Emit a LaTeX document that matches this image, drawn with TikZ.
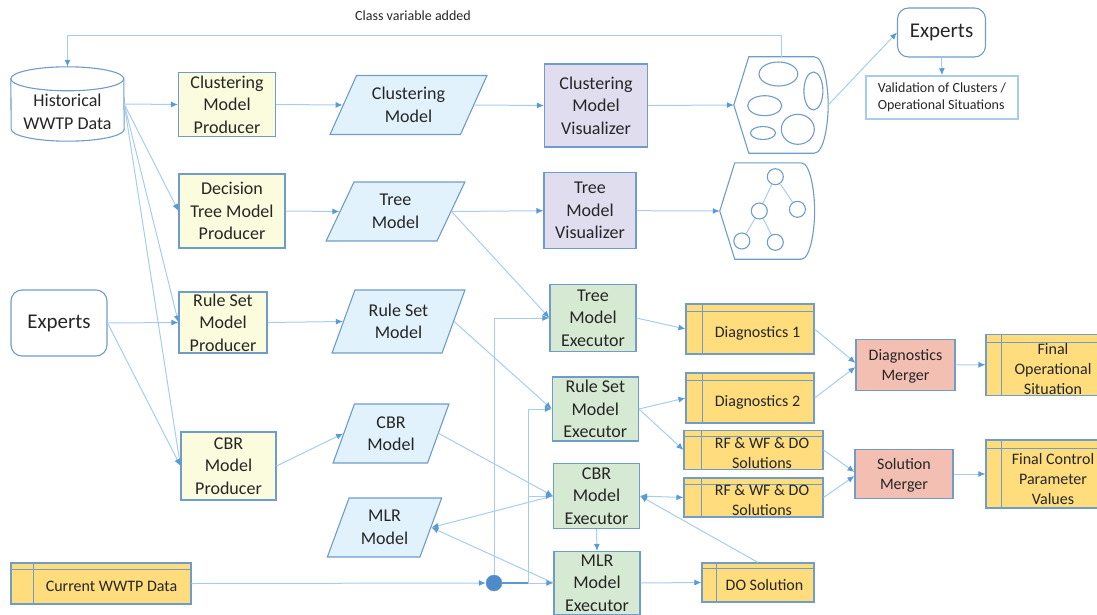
\documentclass[tikz,border=0pt]{standalone}
\usepackage{fontspec}
\setmainfont{Carlito}
\usetikzlibrary{arrows.meta,shapes.geometric}
\definecolor{edgeblue}{HTML}{6F9CC8}
\definecolor{linkblue}{HTML}{A8CCF0}
\definecolor{tipblue}{HTML}{5B9BD5}
\definecolor{dotblue}{HTML}{4F8BCB}
\definecolor{prodfill}{HTML}{FBFBDD}
\definecolor{modelfill}{HTML}{E1F2FD}
\definecolor{visfill}{HTML}{E0DDEF}
\definecolor{execfill}{HTML}{D6E9D2}
\definecolor{storefill}{HTML}{FFDD7C}
\definecolor{mergefill}{HTML}{F3BFB2}
\newcommand{\storetext}[3]{\hspace*{#1pt}\raisebox{\dimexpr-4pt-#2pt\relax}[0pt][0pt]{\begin{tabular}{@{}c@{}}#3\end{tabular}}}
\tikzset{
	box/.style 2 args={rectangle,draw=edgeblue,line width=1.1pt,inner sep=0pt,align=center,text=black!85,font=\fontsize{18}{22.5}\selectfont,minimum width=#1,minimum height=#2},
	producer/.style 2 args={box={#1}{#2},fill=prodfill},
	visualizer/.style 2 args={box={#1}{#2},fill=visfill},
	executor/.style 2 args={box={#1}{#2},fill=execfill},
	merger/.style 2 args={box={#1}{#2},fill=mergefill,font=\fontsize{16}{20}\selectfont},
	model/.style 2 args={trapezium,trapezium stretches=true,draw=edgeblue,line width=1.1pt,fill=modelfill,inner sep=0pt,align=center,text=black!85,font=\fontsize{18}{22.5}\selectfont,minimum width=#1,minimum height=59pt,trapezium left angle=#2,trapezium right angle={180-#2}},
	store/.style n args={4}{box={#1}{#2},fill=storefill,font=\fontsize{16}{20}\selectfont,
		path picture={
			\draw[edgeblue,line width=1pt] ([xshift=#3pt]path picture bounding box.north west) -- ([xshift=#3pt]path picture bounding box.south west);
			\draw[edgeblue,line width=1pt] ([yshift=-#4pt]path picture bounding box.north west) -- ([yshift=-#4pt]path picture bounding box.north east);}},
	person/.style 2 args={box={#1}{#2},rounded corners=11pt,font=\fontsize{21}{25}\selectfont},
	viewbox/.style 2 args={rectangle,inner sep=0pt,minimum width=#1,minimum height=#2},
	viewline/.style={draw=edgeblue,line width=1.1pt},
	treenode/.style={circle,viewline,inner sep=0pt,minimum size=16pt},
	link/.style={draw=linkblue,line width=1pt,-{Latex[length=7pt,width=6pt,color=tipblue]}},
	plain/.style={draw=linkblue,line width=1pt},
}
\newcommand{\viewoutline}[3]{\draw[viewline] (#1.west) -- ([xshift=#2pt]#1.north west) -- ([xshift=-#3pt]#1.north east) .. controls ([xshift=-4pt]#1.north east) and ([yshift=18pt]#1.east) .. (#1.east) .. controls ([yshift=-18pt]#1.east) and ([xshift=-4pt]#1.south east) .. ([xshift=-#3pt]#1.south east) -- ([xshift=#2pt]#1.south west) -- cycle;}
\begin{document}
\begin{tikzpicture}[x=1pt,y=-1pt]
	\useasboundingbox (0,0) rectangle (1097,615);
	% Sources
	\node[viewbox={113}{74},align=center,text=black!85,font=\fontsize{18}{22.5}\selectfont] (hist) at (67.5,104) {\storetext{0}{10}{Historical\\WWTP Data}};
	\draw[viewline] ([yshift=-12pt]hist.north west) arc[start angle=180,end angle=0,x radius=56.5pt,y radius=12pt] -- ([yshift=12pt]hist.south east) arc[start angle=0,end angle=-180,x radius=56.5pt,y radius=12pt] -- cycle;
	\draw[viewline] ([yshift=-12pt]hist.north west) arc[start angle=180,end angle=360,x radius=56.5pt,y radius=12pt];
	\node[person={96}{66}] (leftexp) at (59,323) {Experts};
	\node[store={180}{41}{22}{6}] (current) at (101,583.5) {\storetext{21}{4.5}{Current WWTP Data}};
	\node[circle,fill=dotblue,draw=edgeblue,inner sep=0pt,minimum size=16pt] (dot) at (494,583) {};
	\coordinate (branch) at (528,583);
	% Producers
	\node[producer={97}{64}] (clusterprod) at (227,104.5) {Clustering\\Model\\Producer};
	\node[producer={106}{74}] (treeprod) at (232,211) {Decision\\Tree Model\\Producer};
	\node[producer={88}{61}] (ruleprod) at (223,322.5) {Rule Set\\Model\\Producer};
	\node[producer={95}{68}] (cbrprod) at (228.5,466) {CBR\\Model\\Producer};
	% Models
	\node[model={157}{62}] (clustermod) at (408.5,105) {Clustering\\Model};
	\node[model={139}{65}] (treemod) at (395.5,211.5) {Tree\\Model};
	\node[model={133}{66},minimum height=63pt] (rulemod) at (398.5,321.5) {Rule Set\\Model};
	\node[model={116}{68}] (cbrmod) at (391,433.5) {CBR\\Model};
	\node[model={115}{67}] (mlrmod) at (384.5,527.5) {MLR\\Model};
	% Visualizers
	\node[visualizer={103}{83}] (clustervis) at (596,105.5) {Clustering\\Model\\Visualizer};
	\node[visualizer={92}{76}] (treevis) at (590,210.7) {Tree\\Model\\Visualizer};
	% Views
	\node[viewbox={94}{96}] (clusterview) at (781,105) {};
	\viewoutline{clusterview}{15}{14}
	\foreach \x/\y/\rx/\ry in {778.4/74/19.4/12,813.4/91/9.5/19,764.7/105.7/17/10,763/133/12.5/6.5,797.8/129.3/16.5/15}
		\draw[viewline] (\x,\y) ellipse [x radius=\rx,y radius=\ry];
	\node[viewbox={94.5}{96}] (treeview) at (767.2,211) {};
	\viewoutline{treeview}{15}{13.5}
	\foreach \name/\x/\y in {ta/775.3/176.7,tb/797.4/209.3,tc/759.3/211,td/741.8/241,te/775.3/242.3}
		\node[treenode] (\name) at (\x,\y) {};
	\draw[plain] (ta) -- (tc);
	\draw[plain] (ta) -- (tb);
	\draw[plain] (tc) -- (td);
	\draw[plain] (tc) -- (te);
	% Experts and validation
	\node[person={88}{49}] (topexp) at (941.5,32.5) {Experts};
	\node[rectangle,draw=linkblue,line width=1.5pt,inner sep=0pt,minimum width=152pt,minimum height=43pt,align=left,text=black!85,font=\fontsize{14}{17}\selectfont] (valid) at (942,97.5) {Validation of Clusters /\\Operational Situations};
	\node[text=black!85,font=\fontsize{14}{16}\selectfont] (classlabel) at (413,16) {Class variable added};
	% Executors
	\node[executor={86}{67.5}] (treeexec) at (593,318) {Tree\\Model\\Executor};
	\node[executor={86}{64}] (ruleexec) at (595.3,409) {Rule Set\\Model\\Executor};
	\node[executor={86}{65}] (cbrexec) at (596.5,496) {CBR\\Model\\Executor};
	\node[executor={86}{63}] (mlrexec) at (597,583) {MLR\\Model\\Executor};
	% Results
	\node[store={128}{50}{16}{7}] (diaga) at (750,329) {\storetext{15}{5}{Diagnostics 1}};
	\node[store={128}{50}{16}{7}] (diagb) at (750,398) {\storetext{15}{5}{Diagnostics 2}};
	\node[store={139}{39}{17}{6}] (rfa) at (753.5,450) {\storetext{17}{4.5}{RF \& WF \& DO\\Solutions}};
	\node[store={139}{39}{17}{6}] (rfb) at (753.5,497.5) {\storetext{17}{4.5}{RF \& WF \& DO\\Solutions}};
	\node[store={112}{39}{14}{5}] (dosol) at (758,582.5) {\storetext{13}{4}{DO Solution}};
	\node[merger={99}{51}] (diagmerge) at (905.5,365) {\storetext{0}{2}{Diagnostics\\Merger}};
	\node[merger={98}{49}] (solmerge) at (904,474) {\storetext{0}{2}{Solution\\Merger}};
	\node[store={124}{61}{15}{8}] (finalop) at (1048,364.7) {\storetext{10}{6}{Final\\Operational\\Situation}};
	\node[store={124}{68}{15}{8}] (finalctl) at (1048,474) {\storetext{10}{6.5}{Final Control\\Parameter\\Values}};
	% Connect the top rows
	\draw[link] (clusterview.north) -- ++(0,-21) -| (hist.north);
	\draw[link] (hist.east) -- (clusterprod.west);
	\draw[link] (clusterprod.east) -- (clustermod.left side);
	\draw[link] (clustermod.right side) -- (clustervis.west);
	\draw[link] (clustervis.east) -- (clusterview.west);
	\draw[link] (clusterview.east) -- (topexp.west);
	\draw[link] (topexp.south) -- (valid.north);
	\draw[link] (hist.east) -- (treeprod.west);
	\draw[link] (hist.east) -- (ruleprod.west);
	\draw[link] (hist.east) -- (cbrprod.west);
	\draw[link] (treeprod.east) -- (treemod.left side);
	\draw[link] (treemod.right side) -- (treevis.west);
	\draw[link] (treevis.east) -- (treeview.west);
	% Connect the lower rows
	\draw[link] (leftexp.east) -- (ruleprod.west);
	\draw[link] (leftexp.east) -- (cbrprod.west);
	\draw[link] (ruleprod.east) -- (rulemod.left side);
	\draw[link] (cbrprod.east) -- (cbrmod.left side);
	\draw[link] (treemod.right side) -- (treeexec.west);
	\draw[link] (rulemod.right side) -- (ruleexec.west);
	\draw[link] (cbrmod.right side) -- (cbrexec.west);
	\draw[link] (cbrexec.west) -- (mlrmod.right side);
	\draw[link] (mlrexec.west) -- (mlrmod.right side);
	\draw[link] (current.east) -- (dot.west);
	\draw[link] (dot.north) |- (treeexec.west);
	\draw[draw=tipblue,line width=1.4pt] (dot.east) -- (branch);
	\draw[link] (branch) |- (ruleexec.west);
	\draw[link] (branch) |- (cbrexec.west);
	\draw[link] (branch) -- (mlrexec.west);
	\draw[link] (cbrexec.south) -- (mlrexec.north);
	% Connect the results
	\draw[link] (treeexec.east) -- (diaga.west);
	\draw[link] (ruleexec.east) -- (diagb.west);
	\draw[link] (ruleexec.east) -- (rfa.west);
	\draw[link,{Latex[length=7pt,width=6pt,color=tipblue]}-{Latex[length=7pt,width=6pt,color=tipblue]}] (cbrexec.east) -- (rfb.west);
	\draw[link] (dosol.north) -- (cbrexec.east);
	\draw[link] (mlrexec.east) -- (dosol.west);
	\draw[link] (diaga.east) -- ([yshift=2pt]diagmerge.west);
	\draw[link] (diagb.east) -- ([yshift=-2pt]diagmerge.west);
	\draw[link] (rfa.east) -- ([yshift=2pt]solmerge.west);
	\draw[link] (rfb.east) -- ([yshift=-2pt]solmerge.west);
	\draw[link] (diagmerge.east) -- (finalop.west);
	\draw[link] (solmerge.east) -- (finalctl.west);
\end{tikzpicture}
\end{document}
